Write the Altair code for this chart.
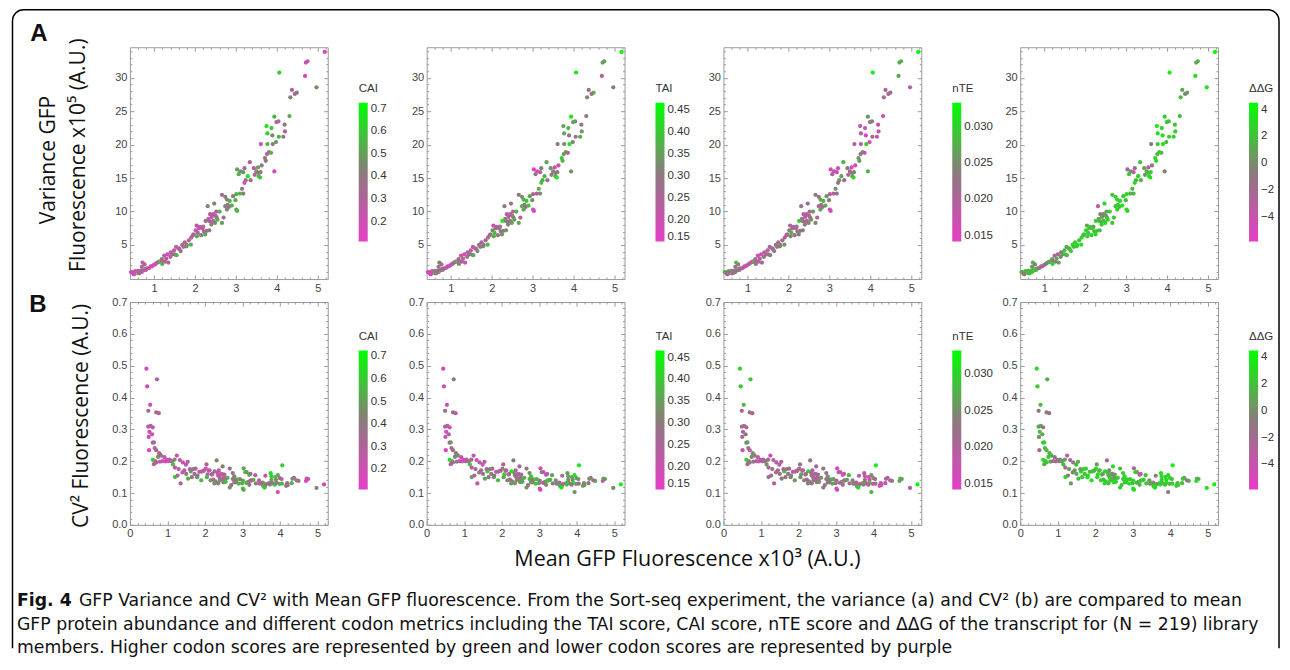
import altair as alt
import pandas as pd

# ---------------- data ----------------
MEAN = [5.17,4.71,4.75,4.69,4.97,4.37,4.33,4.49,4.44,4.06,
4.31,3.94,3.99,4.04,3.75,3.87,3.77,3.89,4.19,4.20,
4.16,4.05,3.98,3.90,3.77,3.61,3.81,3.86,3.76,3.71,
3.73,3.94,3.63,3.54,3.50,3.55,3.60,3.56,3.46,3.59,
3.44,3.34,3.21,3.18,3.29,3.36,3.24,3.03,3.11,3.07,
3.21,3.15,3.18,3.10,3.01,2.99,2.93,2.85,2.74,2.78,
2.66,3.01,3.03,2.74,2.83,2.78,2.52,2.60,2.45,2.53,
2.37,2.41,2.33,2.39,2.45,2.26,2.49,2.66,2.31,2.47,
2.12,2.18,2.22,2.02,2.07,1.97,2.28,2.35,1.91,1.85,
2.04,1.75,1.69,1.62,1.79,1.54,1.49,1.41,1.33,1.45,
1.25,1.19,1.27,1.12,1.06,0.99,0.92,0.83,0.75,0.67,
0.44,0.46,0.54,0.49,0.70,0.77,0.72,0.49,0.55,0.61,
0.52,0.59,0.50,0.61,0.51,0.64,0.66,0.70,0.78,0.81,
0.61,0.64,0.70,0.80,0.88,0.95,1.03,1.10,1.15,1.20,
1.30,1.20,1.35,1.40,1.50,1.55,1.60,1.65,1.72,1.80,
1.90,1.95,2.05,2.10,2.15,2.20,2.25,2.35,2.40,2.50,
2.55,2.70,2.80,2.90]

VAR = [33.9,32.3,32.5,30.3,28.6,28.2,27.1,27.8,27.6,30.8,
24.3,24.2,23.4,23.5,22.8,22.5,21.7,21.4,23.0,22.0,
21.2,21.2,20.4,20.1,20.1,20.1,18.9,18.8,18.6,18.0,
17.6,16.0,16.9,16.6,16.0,15.8,15.9,15.3,15.5,15.1,
16.5,17.4,16.5,15.9,15.3,14.7,14.7,16.3,16.0,15.6,
14.3,13.4,12.7,12.7,12.6,11.7,12.3,11.6,12.2,11.8,
12.5,10.3,10.1,10.8,10.7,10.3,10.0,10.0,9.6,9.1,
9.6,9.2,8.9,8.5,8.6,8.6,8.3,8.3,10.8,11.2,
7.7,7.5,7.0,7.2,6.8,6.6,7.1,7.2,6.1,5.7,
7.9,5.4,5.0,4.4,4.8,4.7,4.2,3.9,3.6,3.6,
3.4,2.9,2.5,2.5,2.3,2.0,1.8,1.5,1.2,0.9,
0.95,0.92,1.10,0.86,1.73,2.08,2.37,0.74,0.94,1.14,
0.79,0.99,0.69,0.96,0.61,1.06,1.05,1.15,1.37,1.44,
0.76,0.78,0.96,1.27,1.55,1.80,2.12,2.42,2.51,2.59,
2.96,2.16,2.37,3.23,3.60,3.48,4.48,4.08,4.73,5.02,
5.05,6.46,6.30,7.50,6.47,7.74,6.58,8.56,8.06,9.40,
8.78,9.10,11.0,10.9]

CAI = [0.15,0.25,0.20,0.15,0.45,0.30,0.45,0.45,0.30,0.62,
0.55,0.55,0.30,0.30,0.65,0.60,0.60,0.45,0.40,0.30,
0.40,0.55,0.50,0.40,0.55,0.20,0.30,0.55,0.30,0.40,
0.42,0.15,0.42,0.50,0.45,0.35,0.40,0.55,0.30,0.60,
0.30,0.30,0.30,0.50,0.68,0.40,0.30,0.50,0.45,0.55,
0.20,0.40,0.42,0.55,0.55,0.55,0.40,0.55,0.40,0.45,
0.35,0.55,0.55,0.42,0.30,0.45,0.25,0.55,0.20,0.40,
0.25,0.30,0.20,0.25,0.35,0.40,0.45,0.50,0.45,0.45,
0.25,0.30,0.25,0.20,0.30,0.40,0.35,0.40,0.35,0.25,
0.30,0.30,0.35,0.55,0.45,0.30,0.25,0.20,0.25,0.30,
0.20,0.45,0.25,0.50,0.30,0.25,0.20,0.30,0.45,0.25,
0.15,0.18,0.15,0.35,0.30,0.30,0.30,0.20,0.35,0.20,
0.15,0.18,0.20,0.30,0.15,0.30,0.35,0.30,0.35,0.40,
0.60,0.25,0.30,0.25,0.20,0.15,0.20,0.25,0.60,0.20,
0.30,0.55,0.30,0.25,0.35,0.55,0.25,0.40,0.30,0.45,
0.55,0.25,0.55,0.20,0.45,0.30,0.50,0.25,0.45,0.30,
0.55,0.30,0.40,0.55]

TAI = [0.45,0.36,0.35,0.24,0.32,0.30,0.33,0.40,0.25,0.44,
0.30,0.44,0.34,0.35,0.35,0.38,0.35,0.30,0.28,0.34,
0.36,0.28,0.31,0.44,0.33,0.28,0.36,0.26,0.34,0.40,
0.38,0.33,0.20,0.22,0.30,0.34,0.27,0.36,0.30,0.44,
0.33,0.35,0.32,0.20,0.38,0.30,0.36,0.16,0.18,0.30,
0.40,0.36,0.33,0.22,0.27,0.34,0.36,0.40,0.33,0.38,
0.30,0.22,0.18,0.38,0.22,0.36,0.25,0.38,0.26,0.34,
0.20,0.24,0.33,0.30,0.30,0.45,0.34,0.36,0.30,0.27,
0.26,0.32,0.28,0.33,0.40,0.36,0.30,0.34,0.30,0.22,
0.22,0.25,0.30,0.44,0.33,0.22,0.20,0.25,0.18,0.28,
0.20,0.30,0.22,0.33,0.18,0.20,0.18,0.25,0.33,0.20,
0.17,0.20,0.18,0.30,0.28,0.25,0.32,0.22,0.30,0.18,
0.17,0.26,0.20,0.30,0.16,0.34,0.25,0.28,0.30,0.33,
0.42,0.22,0.30,0.28,0.22,0.18,0.25,0.22,0.40,0.20,
0.28,0.34,0.20,0.30,0.25,0.36,0.24,0.30,0.26,0.32,
0.38,0.22,0.36,0.24,0.30,0.26,0.34,0.28,0.32,0.26,
0.36,0.24,0.30,0.40]

NTE = [0.033,0.028,0.027,0.027,0.020,0.020,0.020,0.024,0.021,0.032,
0.017,0.026,0.022,0.024,0.018,0.018,0.019,0.016,0.017,0.019,
0.018,0.022,0.016,0.030,0.020,0.019,0.025,0.018,0.023,0.026,
0.026,0.028,0.016,0.015,0.020,0.022,0.024,0.027,0.022,0.030,
0.025,0.028,0.018,0.016,0.026,0.022,0.027,0.016,0.017,0.020,
0.021,0.025,0.022,0.020,0.019,0.024,0.026,0.027,0.022,0.027,
0.023,0.017,0.016,0.021,0.018,0.026,0.021,0.026,0.020,0.024,
0.018,0.019,0.022,0.021,0.020,0.030,0.024,0.025,0.022,0.021,
0.020,0.023,0.022,0.024,0.027,0.025,0.022,0.024,0.021,0.019,
0.020,0.022,0.023,0.029,0.024,0.020,0.019,0.020,0.018,0.021,
0.016,0.022,0.019,0.024,0.018,0.019,0.017,0.021,0.025,0.019,
0.030,0.029,0.028,0.020,0.022,0.020,0.029,0.022,0.024,0.018,
0.020,0.023,0.021,0.025,0.018,0.026,0.022,0.020,0.023,0.025,
0.030,0.019,0.024,0.022,0.020,0.017,0.021,0.019,0.027,0.018,
0.022,0.024,0.020,0.022,0.021,0.024,0.020,0.023,0.021,0.025,
0.026,0.019,0.025,0.020,0.023,0.021,0.024,0.022,0.023,0.020,
0.025,0.020,0.022,0.027]

DDG = [4.3,1.5,1.0,3.0,3.5,1.0,2.0,1.5,-1.0,4.0,
2.0,3.0,2.5,2.0,3.5,2.8,3.0,3.5,2.0,2.5,
2.5,3.0,2.0,3.0,2.5,-1.0,2.5,2.0,1.5,3.0,
3.2,-0.5,-1.5,-3.0,1.5,1.0,2.5,3.0,0.5,3.5,
0.5,2.0,-2.5,-3.5,3.0,2.0,1.5,-2.0,-1.5,2.5,
3.0,2.0,1.5,1.5,3.0,2.0,2.5,3.0,2.5,3.0,
2.0,3.5,3.0,2.0,1.5,2.5,1.0,2.0,-1.0,2.0,
-0.5,0.5,1.0,2.0,1.5,2.5,3.0,2.5,-2.5,3.0,
2.5,3.0,1.5,3.0,2.5,2.0,2.5,2.0,3.0,2.0,
1.0,2.5,3.0,2.5,3.0,1.0,2.0,-1.0,-2.0,0.5,
-3.0,1.0,-1.5,0.5,-1.0,0.0,-1.0,1.0,2.0,0.5,
3.0,2.5,2.0,-1.0,0.0,-1.5,1.5,0.5,1.0,-2.0,
2.5,1.0,0.0,2.0,-2.0,3.0,1.5,2.0,1.0,2.0,
3.5,1.0,2.5,1.5,-2.0,-3.0,-1.0,0.5,2.0,-2.5,
1.0,3.0,0.5,-0.5,1.5,2.0,1.0,2.5,2.0,3.0,
3.5,1.5,3.0,2.0,2.5,1.0,3.0,1.5,2.5,0.5,
3.0,2.0,2.5,3.5]

X_TICKS_A = [1, 2, 3, 4, 5]
Y_TICKS_A = [5, 10, 15, 20, 25, 30]
X_TICKS_B = [0, 1, 2, 3, 4, 5]
Y_TICKS_B = [0.0, 0.1, 0.2, 0.3, 0.4, 0.5, 0.6, 0.7]

METRICS = [
    ("CAI", "CAI", [0.112, 0.419, 0.726], [0.2, 0.3, 0.4, 0.5, 0.6, 0.7], ".1f"),
    ("TAI", "TAI", [0.15, 0.308, 0.466], [0.15, 0.2, 0.25, 0.3, 0.35, 0.4, 0.45], ".2f"),
    ("nTE", "nTE", [0.0142, 0.02375, 0.0333], [0.015, 0.02, 0.025, 0.03], ".3f"),
    ("ddG", "ΔΔG", [-5.87, -0.675, 4.52], [-4, -2, 0, 2, 4], "d"),
]

Y_TITLE_A = ["Variance GFP", "Fluorescence x10⁵ (A.U.)"]
Y_TITLE_B = "CV² Fluorescence (A.U.)"
X_TITLE = "Mean GFP Fluorescence x10³ (A.U.)"
CAP_BOLD = "Fig. 4"
CAP_LINES = [
    "GFP Variance and CV² with Mean GFP fluorescence. From the Sort-seq experiment, the variance (a) and CV² (b) are compared to mean",
    "GFP protein abundance and different codon metrics including the TAI score, CAI score, nTE score and ΔΔG of the transcript for (N = 219) library",
    "members. Higher codon scores are represented by green and lower codon scores are represented by purple",
]

df = pd.DataFrame({"mean": MEAN, "var": VAR, "CAI": CAI, "TAI": TAI, "nTE": NTE, "ddG": DDG})

# ---------------- styling ----------------
COLORS = ["#e63ec8", "#8b7b7c", "#00ff00"]
AXC = "#9a9a9a"
W, HA, HB = 198, 232, 223
X0, Y0 = 128, 47          # page position of the first plot's top-left corner
SW = 1.5                  # border stroke width (Vega pads bounds by a full stroke width)
CAP_FONT = "DejaVu Sans"
CAP_SIZE = 17.3


def minor(lo, hi, step, majors):
    n = int(round((hi - lo) / step))
    out = []
    for i in range(n + 1):
        v = round(lo + i * step, 4)
        if all(abs(v - m) > 1e-9 for m in majors):
            out.append(v)
    return out


def axis(orient, values, size, labels, fmt="d"):
    kw = dict(orient=orient, values=values, tickSize=size, offset=-size, domain=False,
              grid=False, labels=labels, tickColor=AXC, tickWidth=1, title="")
    if labels:
        kw.update(labelFont="Liberation Sans", labelFontSize=11, labelColor="#444",
                  labelPadding=3, format=fmt, labelFlush=False, labelOverlap=False)
    return alt.Axis(**kw)


def text_layer(s, px, py, size, weight="normal", angle=0, align="center",
               font="Open Sans", baseline="middle"):
    return alt.Chart(pd.DataFrame({"t": [s]})).mark_text(
        fontSize=size, fontWeight=weight, angle=angle, align=align, baseline=baseline,
        font=font, color="#111"
    ).encode(text="t:N", x=alt.value(px - X0), y=alt.value(py - Y0))


def annotations():
    one = pd.DataFrame({"k": [0]})
    border = alt.Chart(one).mark_rect(
        fill="white", fillOpacity=0, stroke="black", strokeWidth=SW,
        cornerRadiusTopLeft=11, cornerRadiusTopRight=11
    ).encode(x=alt.value(8 + SW + 1 - X0), x2=alt.value(1278 - X0),
             y=alt.value(8 + SW - Y0), y2=alt.value(650 - Y0))
    cover = alt.Chart(one).mark_rule(color="white", strokeWidth=3).encode(
        x=alt.value(8 - X0), x2=alt.value(1279 - X0), y=alt.value(650 - Y0))
    layers = [border, cover,
              text_layer("A", 37, 34, 24, "bold", font="Liberation Sans"),
              text_layer("B", 36, 305, 24, "bold", font="Liberation Sans"),
              text_layer(Y_TITLE_A[0], 47, 160, 21, angle=270),
              text_layer(Y_TITLE_A[1], 77, 155, 21, angle=270),
              text_layer(Y_TITLE_B, 80, 416, 21, angle=270),
              text_layer(X_TITLE, 686, 560, 21.5),
              text_layer(CAP_BOLD, 15, 601, CAP_SIZE, "bold", align="left", font=CAP_FONT),
              text_layer(CAP_LINES[0], 77, 601, CAP_SIZE, align="left", font=CAP_FONT),
              text_layer(CAP_LINES[1], 15, 625, CAP_SIZE, align="left", font=CAP_FONT),
              text_layer(CAP_LINES[2], 15, 648, CAP_SIZE, align="left", font=CAP_FONT)]
    return layers


def panel(row, mi, annotate=False):
    key, title, dom, lvals, lfmt = METRICS[mi]
    if row == "A":
        yfield, xdom, ydom = "var", [0.41, 5.245], [-0.1, 34.6]
        xmaj, ymaj = X_TICKS_A, Y_TICKS_A
        xmin, ymin = minor(0.6, 5.2, 0.2, xmaj), minor(1, 34, 1, ymaj)
        yf, H, legY = "d", HA, 36
    else:
        yfield, xdom, ydom = "cv2", [0, 5.27], [0, 0.7]
        xmaj, ymaj = X_TICKS_B, Y_TICKS_B
        xmin, ymin = minor(0.2, 5.2, 0.2, xmaj), minor(0.02, 0.68, 0.02, ymaj)
        yf, H, legY = ".1f", HB, 29
    xs = alt.Scale(domain=xdom, nice=False, zero=False)
    ys = alt.Scale(domain=ydom, nice=False, zero=False)

    pts = alt.Chart().mark_circle(size=18, opacity=1).encode(
        x=alt.X("mean:Q", scale=xs, axis=axis("bottom", xmaj, 4, True, "d")),
        y=alt.Y(yfield + ":Q", scale=ys, axis=axis("left", ymaj, 4, True, yf)),
        color=alt.Color(
            key + ":Q",
            scale=alt.Scale(domain=dom, range=COLORS, clamp=True, interpolate="rgb"),
            legend=alt.Legend(
                title=title, orient="none", legendX=W + 31, legendY=legY,
                direction="vertical", values=lvals, format=lfmt,
                gradientLength=139, gradientThickness=9, gradientStrokeWidth=0,
                labelOverlap=False, labelFont="Liberation Sans",
                labelFontSize=11.5, labelColor="#333", labelOffset=3,
                titleFont="Liberation Sans", titleFontSize=11.5, titleFontWeight="normal",
                titleColor="#333", titlePadding=8, padding=0,
            ),
        ),
    )

    def ghost(xo, xv, yo, yv, sz):
        return alt.Chart().mark_point(opacity=0).encode(
            x=alt.X("mean:Q", scale=xs, axis=axis(xo, xv, sz, False)),
            y=alt.Y(yfield + ":Q", scale=ys, axis=axis(yo, yv, sz, False)),
        )

    layers = [pts,
              ghost("bottom", xmin, "left", ymin, 2),
              ghost("top", xmaj, "right", ymaj, 4),
              ghost("top", xmin, "right", ymin, 2)]
    if annotate:
        layers += annotations()
    return (alt.layer(*layers, data=df)
            .transform_calculate(cv2="datum.var / (10 * datum.mean * datum.mean)")
            .resolve_axis(x="independent", y="independent")
            .properties(width=W, height=H))


panels = [panel("A", i, annotate=(i == 0)) for i in range(4)] + [panel("B", i) for i in range(4)]

chart = (alt.concat(
    *panels, columns=4, spacing={"row": 23, "column": 99}, bounds="flush", padding=0,
    autosize=alt.AutoSizeParams(type="pad"),
).resolve_scale(color="independent").resolve_legend(color="independent")
 .configure(padding=0)
 .configure_view(stroke=AXC, strokeWidth=1).configure_axis(grid=False))

chart.save("out.html", embed_options={"renderer": "svg", "actions": False})
